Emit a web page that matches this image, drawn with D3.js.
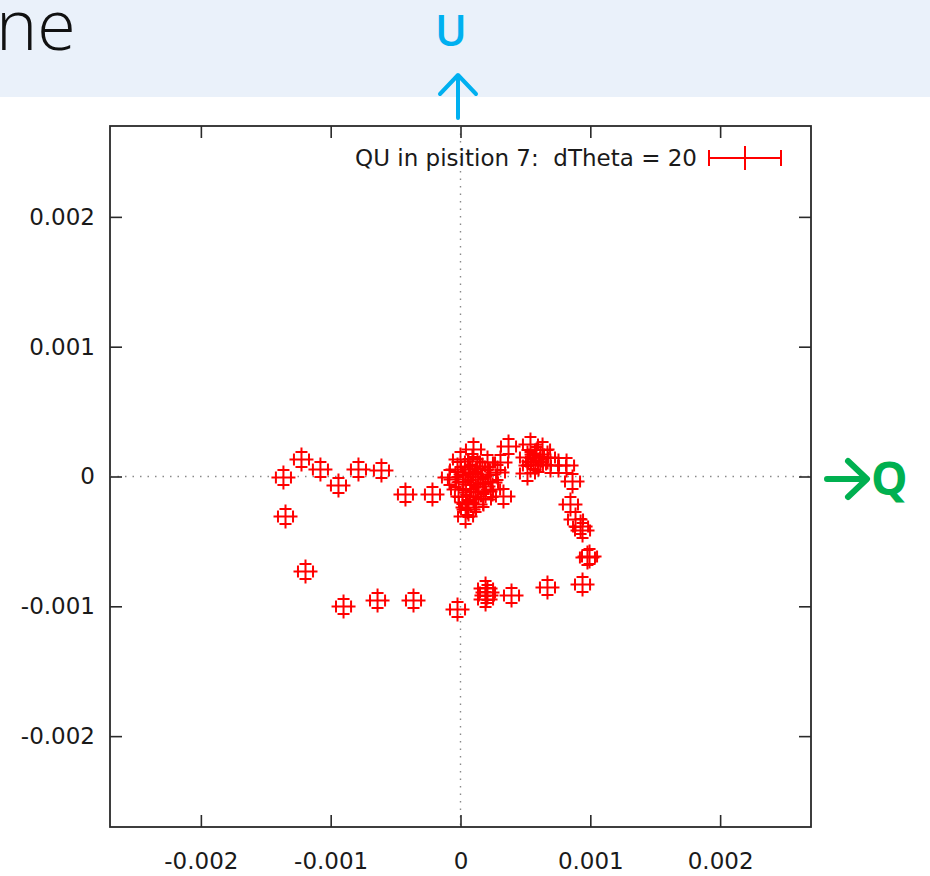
<!DOCTYPE html>
<html>
<head>
<meta charset="utf-8">
<script src="https://cdn.jsdelivr.net/npm/d3@7"></script>
<style>
  html, body { margin: 0; padding: 0; background: #ffffff; }
  svg { display: block; }
</style>
</head>
<body>
<svg id="chart" width="930" height="876"></svg>
<script>
// Stokes Q and U measurements
const qValues = [
  -0.001364, -0.001225, -0.001079, -0.000940, -0.000786, -0.000609, -0.000424, -0.000216,
  -0.001348, -0.001194, -0.000901, -0.000639, -0.000362, -0.000023,
  0.000193, 0.000200, 0.000193, 0.000208, 0.000393, 0.000670, 0.000940,
  0.000994, 0.000847, 0.000886, 0.000925, 0.000940, 0.000978, 0.000863, 0.000817, 0.000755, 0.000693,
  0.000370, 0.000539, 0.000632, 0.000562, 0.000516, 0.000601, 0.000516, 0.000670, 0.000586,
  0.000578, 0.000616, 0.000539,
  0.000100, 0.000308, 0.000331, 0.000039, 0.000054, -0.000023, 0.000000, 0.000208, 0.000285,
  0.000177, 0.000100, 0.000023, 0.000154, 0.000077, 0.000231, -0.000039, 0.000077, 0.000131,
  0.000193, 0.000015, 0.000062, 0.000046,
  0.000116, 0.000169, 0.000077, 0.000139, 0.000216, 0.000039, 0.000116, 0.000177, 0.000247,
  0.000092, 0.000062, -0.000015, -0.000085
];
const uValues = [
  -0.000008, 0.000131, 0.000054, -0.000069, 0.000054, 0.000046, -0.000139, -0.000139,
  -0.000308, -0.000732, -0.001002, -0.000955, -0.000955, -0.001025,
  -0.000863, -0.000917, -0.000948, -0.000894, -0.000917, -0.000855, -0.000832,
  -0.000616, -0.000216, -0.000331, -0.000385, -0.000416, -0.000624, -0.000039, 0.000085, 0.000085, 0.000085,
  0.000231, 0.000247, 0.000208, 0.000116, 0.000146, 0.000092, 0.000023, 0.000146, 0.000170,
  0.000108, 0.000146, 0.000085,
  0.000208, 0.000108, -0.000154, -0.000308, -0.000239, 0.000054, 0.000131, 0.000108, 0.000031,
  -0.000077, -0.000154, -0.000046, 0.000000, 0.000031, -0.000046, -0.000023, -0.000123, 0.000077,
  -0.000116, -0.000154, -0.000254, -0.000200,
  -0.000023, 0.000054, -0.000062, -0.000116, 0.000015, 0.000015, -0.000216, -0.000177, -0.000100,
  0.000116, 0.000077, -0.000100, -0.000008
];
// error bar half-widths
const qError = 0.000058;
const uError = 0.000058;

const tickValues = [-0.002, -0.001, 0, 0.001, 0.002];
const axisDomain = [-0.0027, 0.0027];
const legendLabel = "QU in pisition 7:  dTheta = 20";

const points = qValues.map((q, i) => ({ q: q, u: uValues[i] }));

const svg = d3.select("#chart");
const plotLeft = 110, plotRight = 811, plotTop = 126, plotBottom = 827;

const x = d3.scaleLinear().domain(axisDomain).range([plotLeft, plotRight]);
const y = d3.scaleLinear().domain(axisDomain).range([plotBottom, plotTop]);

// slide header band
svg.append("rect").attr("x", 0).attr("y", 0).attr("width", 930).attr("height", 97)
  .attr("fill", "#eaf1fa");
svg.append("text").attr("x", -4).attr("y", 50)
  .attr("font-family", "'Open Sans', sans-serif").attr("font-weight", 300)
  .attr("font-size", 70).attr("fill", "#111").text("ne");

// plot frame
svg.append("rect").attr("x", plotLeft).attr("y", plotTop)
  .attr("width", plotRight - plotLeft).attr("height", plotBottom - plotTop)
  .attr("fill", "#fff").attr("stroke", "#2a2a2a").attr("stroke-width", 1.8);

// dotted zero axes
const g = svg.append("g");
g.append("line").attr("x1", x(0)).attr("x2", x(0)).attr("y1", plotTop).attr("y2", plotBottom)
  .attr("stroke", "#8a8a8a").attr("stroke-width", 1.4).attr("stroke-dasharray", "1.5,6");
g.append("line").attr("x1", plotLeft).attr("x2", plotRight).attr("y1", y(0)).attr("y2", y(0))
  .attr("stroke", "#8a8a8a").attr("stroke-width", 1.4).attr("stroke-dasharray", "1.5,6");

const fmt = d => d === 0 ? "0" : d.toFixed(3);
const tickFont = "'DejaVu Sans', Verdana, sans-serif";

function styleAxis(sel) {
  sel.select(".domain").remove();
  sel.selectAll(".tick line").attr("stroke", "#2a2a2a").attr("stroke-width", 1.6);
  sel.selectAll(".tick text").attr("fill", "#1a1a1a")
    .attr("font-family", tickFont).attr("font-size", 23);
}

svg.append("g").attr("transform", `translate(${plotLeft},0)`)
  .call(d3.axisLeft(y).tickValues(tickValues).tickFormat(fmt).tickSize(-12).tickPadding(15))
  .call(styleAxis);
svg.append("g").attr("transform", `translate(${plotRight},0)`)
  .call(d3.axisRight(y).tickValues(tickValues).tickFormat("").tickSize(-12))
  .call(styleAxis);
svg.append("g").attr("transform", `translate(0,${plotBottom})`)
  .call(d3.axisBottom(x).tickValues(tickValues).tickFormat(fmt).tickSize(-12).tickPadding(26))
  .call(styleAxis);
svg.append("g").attr("transform", `translate(0,${plotTop})`)
  .call(d3.axisTop(x).tickValues(tickValues).tickFormat("").tickSize(-12))
  .call(styleAxis);

// xy error bar markers
const red = "#ff0000";
const cap = 6, cross = 12;
const marks = svg.append("g").attr("stroke", red).attr("stroke-width", 2).attr("fill", "none");
points.forEach(p => {
  const cx = x(p.q), cy = y(p.u);
  const x0 = x(p.q - qError), x1 = x(p.q + qError);
  const y0 = y(p.u - uError), y1 = y(p.u + uError);
  const path = d3.path();
  // point symbol "+"
  path.moveTo(cx - cross, cy); path.lineTo(cx + cross, cy);
  path.moveTo(cx, cy - cross); path.lineTo(cx, cy + cross);
  // caps of horizontal bar
  path.moveTo(x0, cy - cap); path.lineTo(x0, cy + cap);
  path.moveTo(x1, cy - cap); path.lineTo(x1, cy + cap);
  // caps of vertical bar
  path.moveTo(cx - cap, y0); path.lineTo(cx + cap, y0);
  path.moveTo(cx - cap, y1); path.lineTo(cx + cap, y1);
  marks.append("path").attr("d", path.toString());
});

// legend
const ly = 158;
svg.append("text").attr("x", 697).attr("y", ly).attr("dy", "0.36em")
  .attr("text-anchor", "end").attr("xml:space", "preserve")
  .style("white-space", "pre")
  .attr("font-family", tickFont).attr("font-size", 23).attr("fill", "#1a1a1a")
  .text(legendLabel);
const lg = svg.append("g").attr("stroke", red).attr("stroke-width", 2);
lg.append("line").attr("x1", 709).attr("x2", 781).attr("y1", ly).attr("y2", ly);
lg.append("line").attr("x1", 709).attr("x2", 709).attr("y1", ly - 8).attr("y2", ly + 8);
lg.append("line").attr("x1", 781).attr("x2", 781).attr("y1", ly - 8).attr("y2", ly + 8);
lg.append("line").attr("x1", 745).attr("x2", 745).attr("y1", ly - 12).attr("y2", ly + 12);

// axis annotations: U (up) and Q (right)
const cyan = "#00b0f0", green = "#00b050";
svg.append("text").attr("x", 451).attr("y", 46).attr("text-anchor", "middle")
  .attr("font-family", "'Open Sans', sans-serif").attr("font-weight", 600)
  .attr("font-size", 43).attr("fill", cyan).text("U");
svg.append("path").attr("d", "M458,118 L458,76 M440,94 L458,75 L476,94")
  .attr("fill", "none").attr("stroke", cyan).attr("stroke-width", 4)
  .attr("stroke-linecap", "round").attr("stroke-linejoin", "round");
svg.append("path").attr("d", "M827,479 L865,479 M848,461 L867,479 L848,497")
  .attr("fill", "none").attr("stroke", green).attr("stroke-width", 6)
  .attr("stroke-linecap", "round").attr("stroke-linejoin", "round");
svg.append("text").attr("x", 871).attr("y", 495)
  .attr("font-family", "'Open Sans', sans-serif").attr("font-weight", 700)
  .attr("font-size", 46).attr("fill", green).text("Q");
</script>
</body>
</html>
